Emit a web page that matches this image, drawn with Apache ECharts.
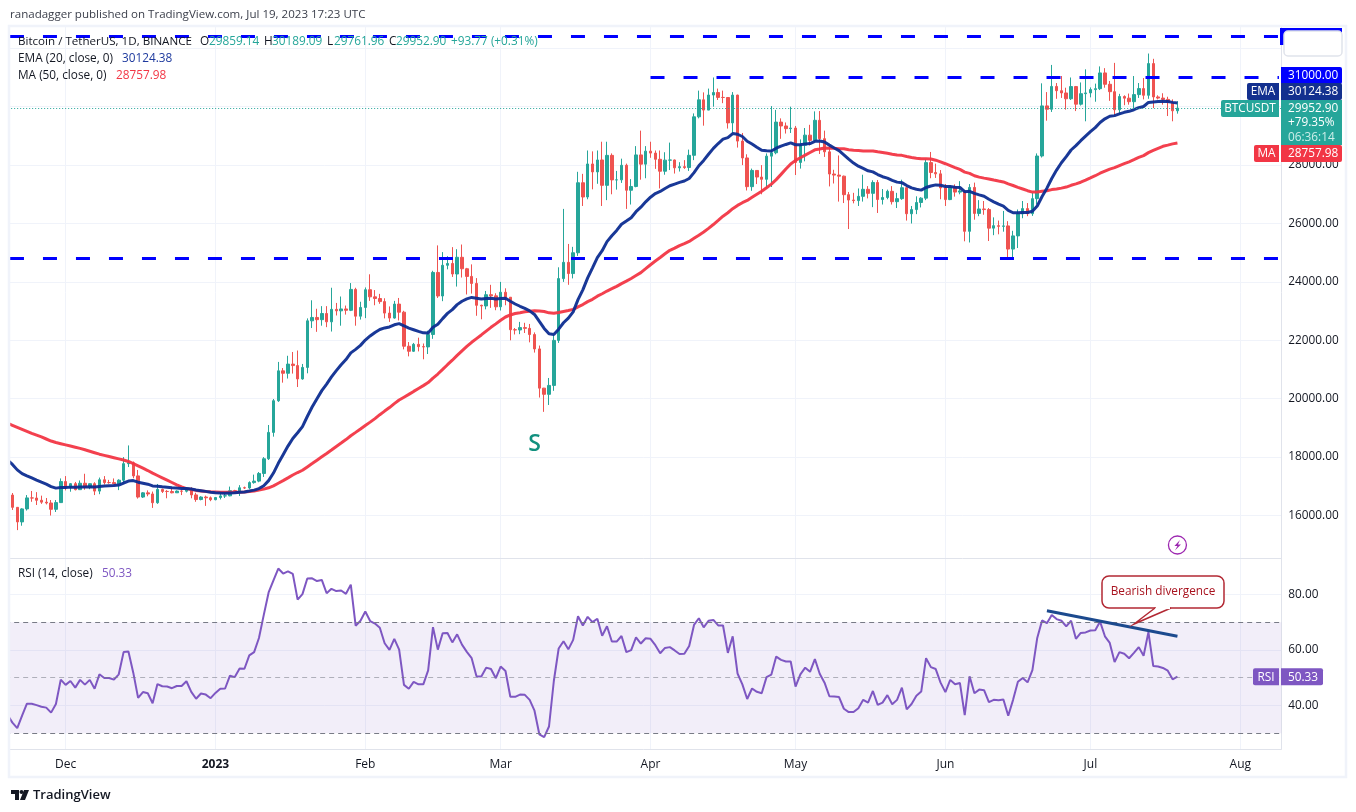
<!DOCTYPE html>
<html><head><meta charset="utf-8">
<style>html,body{margin:0;padding:0;background:#fff}#c{width:1356px;height:812px}</style>
<script src="https://cdn.jsdelivr.net/npm/echarts@6/dist/echarts.min.js"></script>
</head><body><div id="c"></div>
<script>
const startDate = '2022-11-19', bandCount = 264;
const monthDates = ['2022-12-01','2023-01-01','2023-02-01','2023-03-01','2023-04-01','2023-05-01','2023-06-01','2023-07-01','2023-08-01'];
const monthLabels = ['Dec','2023','Feb','Mar','Apr','May','Jun','Jul','Aug'];
const priceTicks = [16000,18000,20000,22000,24000,26000,28000,30000,32000];
const rsiTicks = [40,60,80];
const levels = {top:32420, mid:31000, low:24800};
const last = {price:29952.9, ema:30124.38, ma:28757.98, rsi:50.33};

const opens = [16700,16280,15781,16226,16603,16599,16522,16458,16428,16212,16442,
17163,16970,17090,16885,17105,16966,17089,16836,17224,17128,17127,17085,17209,17775,17804,17357,16632,16776,16738,16438,16895,16825,16821,16778,16836,16832,16919,16706,16547,16633,16607,
16542,16616,16672,16674,16851,16829,16950,16943,17127,17178,17440,17943,18846,19930,20954,20871,21185,21134,20677,21071,22667,22783,22707,22917,22632,23060,23009,23074,23028,23743,22826,
23125,23732,23488,23431,23326,22932,22762,23240,22963,21797,21625,21862,21783,21773,22199,24324,23517,24569,24631,24271,24843,24450,24188,23947,23198,23175,23561,23522,
23147,23646,23475,22362,22354,22435,22409,22197,21705,20362,20150,20455,21997,24113,24670,24285,24998,27395,26907,28038,27767,28175,27307,28333,27493,27494,27994,27139,27268,28348,28033,
28478,28411,28199,27790,28170,28175,27907,27947,27917,28335,29653,30235,29884,30399,30485,30318,30315,29445,30397,28822,28245,27262,27817,27591,27514,28307,28422,29473,29340,29248,
29268,28091,28680,29026,28847,29534,28904,28454,27694,27658,27621,26987,26804,26784,26930,27171,27033,27405,26821,26890,27102,26747,26851,27225,26334,26476,26719,26868,28085,27745,27700,
27219,26819,27249,27075,27116,25732,27235,26345,26498,26477,25841,25925,25902,25918,25124,25576,26327,26510,26336,26851,28311,30027,29912,30695,30548,30470,30271,30689,30086,30445,
30472,30585,30617,31156,30767,30514,29895,30348,30292,30171,30414,30620,30391,31476,30334,30295,30249,30145,29859];
const closes = [16280,15781,16226,16603,16599,16522,16458,16428,16212,16442,17163,
16970,17090,16885,17105,16966,17089,16836,17224,17128,17127,17085,17209,17775,17804,17357,16632,16776,16738,16438,16895,16825,16821,16778,16836,16832,16919,16706,16547,16633,16607,16542,
16616,16672,16674,16851,16829,16950,16943,17127,17178,17440,17943,18846,19930,20954,20871,21185,21134,20677,21071,22667,22783,22707,22917,22632,23060,23009,23074,23028,23743,22826,23125,
23732,23488,23431,23326,22932,22762,23240,22963,21797,21625,21862,21783,21773,22199,24324,23517,24569,24631,24271,24843,24450,24188,23947,23198,23175,23561,23522,23147,
23646,23475,22362,22354,22435,22409,22197,21705,20362,20150,20455,21997,24113,24670,24285,24998,27395,26907,28038,27767,28175,27307,28333,27493,27494,27994,27139,27268,28348,28033,28478,
28411,28199,27790,28170,28175,27907,27947,27917,28335,29653,30235,29884,30399,30485,30318,30315,29445,30397,28822,28245,27262,27817,27591,27514,28307,28422,29473,29340,29248,29268,
28091,28680,29026,28847,29534,28904,28454,27694,27658,27621,26987,26804,26784,26930,27171,27033,27405,26821,26890,27102,26747,26851,27225,26334,26476,26719,26868,28085,27745,27700,27219,
26819,27249,27075,27116,25732,27235,26345,26498,26477,25841,25925,25902,25918,25124,25576,26327,26510,26336,26851,28311,30027,29912,30695,30548,30470,30271,30689,30086,30445,30472,
30585,30617,31156,30767,30514,29895,30348,30292,30171,30414,30620,30391,31476,30334,30295,30249,30145,29859,29952.9];
const lows = [16190,15500,15650,16170,16470,16360,16400,16380,16000,16120,16430,
16860,16815,16860,16880,16880,16900,16700,16730,17060,17090,17070,16870,17090,17660,17275,16580,16600,16660,16260,16400,16770,16590,16760,16770,16700,16790,16590,16470,16520,16330,16490,
16520,16550,16600,16660,16750,16670,16910,16910,17090,17140,17320,17900,18700,19890,20550,20690,20860,20400,20650,20870,22420,22290,22500,22450,22300,22850,22500,22880,23000,22500,22710,
22760,23350,23200,23250,22750,22630,22740,22680,21690,21450,21600,21620,21350,21530,22050,23450,23340,24430,24170,23840,24150,23570,23600,22840,22720,23060,23110,23030,
23020,23200,22000,22200,22210,22250,21930,21580,20040,19550,19785,20270,21910,24000,23900,24120,24890,26600,26830,27170,27360,26600,26800,27000,27160,27390,26500,26650,27240,27500,27550,
28250,27870,27200,27670,27830,27710,27780,27870,27800,28170,29600,29350,29880,30000,30230,30120,29250,29100,28600,28000,27130,27120,27350,27000,27200,27250,28370,28900,29080,29100,
27660,27880,28130,28670,28800,28380,28280,27270,27370,26750,26700,25810,26690,26600,26750,26860,26560,26360,26650,26830,26650,26530,26810,26100,26000,26320,26550,26800,27550,27560,26830,
26600,26800,26920,27000,25390,25350,26130,26250,26300,25400,25600,25630,25720,24820,24800,25160,26180,26250,26260,26650,28260,29520,29820,30270,30300,29900,30230,29850,30040,29500,
30320,30170,30570,30650,30200,29700,29720,30050,30070,29950,30300,30250,30270,29950,30250,30070,29680,29500,29761.96];
const highs = [16770,16290,16250,16700,16840,16800,16680,16600,16530,16530,17270,
17350,17110,17150,17200,17430,17100,17140,17300,17350,17220,17270,17240,18000,18400,17850,17560,16800,16860,16820,17080,16920,16870,16950,16860,16870,16945,16970,16780,16660,16680,16650,
16630,16760,16780,16990,16880,17040,16990,17170,17400,17490,18000,19100,19990,21260,21050,21470,21600,21650,21190,22750,23370,23080,23170,23170,23800,23280,23500,23190,23960,23800,23320,
23810,24260,23720,23590,23440,23160,23350,23450,23010,21940,21910,22090,21890,22330,24380,25250,25020,24880,25190,25120,25280,24480,24600,24130,23220,23690,23900,23610,
24000,23780,23480,22420,22630,22600,22560,22270,21820,20370,20710,22200,24500,26500,25300,25200,27770,27700,28500,28470,28500,28800,28800,28400,27800,28220,28050,27520,28650,29180,28650,
28800,28500,28500,28440,28770,28190,28100,28170,28530,29770,30550,30490,30620,31000,30620,30550,30320,30500,30410,29100,28370,27880,27820,28000,28400,30020,29890,29600,29460,30000,
29340,28880,29270,29380,29840,29850,29180,28670,27840,28330,27640,27080,27050,27200,27670,27280,27480,27490,27180,27160,27280,27050,27500,27230,26600,26930,26900,28200,28450,28050,27830,
27350,27300,27340,27450,27130,27350,27400,26800,26770,26530,26210,26100,26430,26080,25750,26480,26770,26700,27050,28400,30800,30500,31430,30810,31050,30650,31000,30710,30830,31280,
30660,30790,31380,31320,30880,31500,30440,30390,30450,31050,30810,30980,31820,31640,30390,30460,30340,30250,30189.09];
const ema20 = [17900,17750,17563,17436,17357,17285,17212,17140,17072,16990,16938,16959,
16960,16972,16964,16977,16976,16987,16973,16997,17009,17020,17026,17043,17113,17179,17196,17142,17107,17072,17012,17001,16984,16968,16950,16939,16929,16928,16907,16873,16850,16827,16800,
16782,16772,16763,16771,16777,16793,16807,16837,16869,16923,17020,17194,17454,17787,18081,18377,18639,18833,19046,19391,19714,19999,20277,20501,20745,20961,21162,21340,21569,21689,21826,
22007,22148,22270,22371,22424,22456,22531,22572,22498,22415,22362,22307,22256,22251,22448,22550,22742,22922,23050,23221,23338,23419,23469,23443,23417,23431,23440,23412,
23434,23438,23336,23243,23166,23094,23009,22885,22645,22407,22221,22200,22382,22600,22760,22973,23394,23728,24138,24483,24834,25069,25380,25581,25763,25975,26086,26199,26404,26559,26742,
26901,27025,27098,27200,27293,27351,27408,27456,27540,27741,27978,28159,28372,28573,28739,28889,28942,29081,29056,28979,28816,28721,28613,28508,28489,28483,28577,28650,28707,28760,
28696,28694,28726,28738,28814,28823,28788,28684,28586,28494,28351,28204,28069,27961,27886,27805,27767,27677,27602,27554,27477,27417,27399,27298,27220,27172,27143,27233,27282,27322,27312,
27265,27263,27245,27233,27090,27104,27032,26981,26933,26829,26743,26663,26592,26452,26369,26365,26379,26375,26420,26600,26926,27210,27542,27828,28080,28289,28517,28666,28835,28991,
29143,29283,29461,29585,29673,29694,29756,29807,29842,29896,29965,30006,30146,30164,30176,30183,30179,30148,30124.38];
const ma50 = [19160,19090,19020,18950,18880,18810,18750,18690,18620,18550,18500,18460,
18420,18380,18340,18300,18250,18200,18150,18100,18060,18020,17980,17940,17900,17850,17780,17700,17620,17540,17450,17370,17290,17210,17130,17050,16980,16920,16890,16860,16840,16820,16810,
16805,16800,16795,16795,16800,16800,16805,16820,16838,16871,16905,16950,17017,17106,17194,17289,17387,17472,17550,17664,17778,17894,18010,18123,18242,18365,18482,18600,18732,18847,18965,
19084,19198,19319,19453,19576,19696,19832,19953,20052,20148,20250,20349,20448,20554,20706,20845,21004,21164,21319,21484,21640,21790,21932,22059,22184,22316,22444,22563,
22687,22798,22868,22916,22946,22977,22997,23008,23002,22984,22940,22924,22952,22987,23020,23059,23147,23224,23324,23404,23511,23595,23687,23767,23848,23941,24025,24115,24217,24318,24452,
24588,24715,24835,24963,25083,25155,25244,25311,25385,25493,25601,25710,25834,25965,26107,26250,26368,26506,26620,26712,26788,26897,27002,27104,27222,27347,27502,27682,27864,28040,
28162,28253,28340,28431,28522,28552,28583,28576,28574,28563,28557,28526,28512,28501,28485,28483,28486,28455,28432,28404,28371,28344,28333,28296,28262,28238,28216,28219,28207,28168,28108,
28047,27984,27916,27852,27760,27716,27635,27589,27554,27526,27488,27454,27422,27358,27301,27238,27181,27123,27075,27079,27106,27124,27161,27181,27212,27248,27308,27357,27413,27483,
27559,27636,27721,27793,27863,27913,27984,28052,28113,28186,28261,28324,28427,28504,28576,28644,28685,28727,28757.98];
const rsi14 = [36.5,33.8,31.8,36.3,40.6,40.6,40.1,39.5,39.2,37.4,40.5,49.3,47.4,48.8,46.4,49.2,47.5,49.2,46,51.2,49.9,49.9,49.3,51.2,59.2,59.4,51.8,42.7,44.8,44.4,40.8,47.7,46.9,46.8,46.2,47,47,48.7,44.9,42.4,44.3,43.9,42.6,44.5,46,46.1,50.7,50.2,53.3,53.2,58,
59.2,64.3,72.6,80.7,85,89.3,87.5,88.3,87.4,78.1,80.1,85.7,85.8,84.8,85.2,80.4,82,81.2,81.4,80.2,83.5,68.7,70.5,73.8,70.4,69.5,68,62.4,60,64,60.1,47.4,46,48.5,47.6,47.6,52.6,68.2,60.1,66,66.1,
62.7,65.6,61.9,59.3,57,50.5,50.4,53.6,53.1,49.8,54,52.4,43.1,43.1,43.9,43.8,42,38.1,29.6,28.6,32.4,48.8,60.5,63.1,60.2,63.6,72.1,68.8,71.9,70,71.2,65.1,68.5,63,63,65,59.2,59.9,64.5,62.3,64.2,64,61.7,58.8,60.7,61,59.8,58.5,58.6,61.4,69,71.4,68.1,70.5,70.8,68.8,68.8,58.9,64.9,51.5,47.6,42.3,46.1,44.9,44.4,50.2,51.1,57.6,56.4,55.8,55.8,46.8,51.2,53.6,52.1,56.7,51.4,48.2,43.3,43.2,43,38.8,37.6,37.6,39,42,41,45.2,40.2,41,43.7,
40.4,42,46.4,38.6,40.5,43.5,45,57,53.8,53.1,48.2,44.8,49.2,47.6,48.1,36.5,50.5,44.4,45.7,45.5,41.2,42,41.9,42.1,36.3,42,48.5,49.9,48.3,52.7,64.3,70.6,69.6,72.6,71.1,70.5,68.5,70.5,64,66.1,66.3,67,67.1,70.2,64.9,62.5,55.6,59.2,58.6,57,58.9,61,57.9,66.4,54.2,54,53.5,52.5,49.4,50.33];
const divergence = {from:['2023-06-22',74.1], to:['2023-07-19',64.9]};

const fam = '"Open Sans","Noto Sans",sans-serif';
const dates = [];
{ const t0 = Date.parse(startDate+'T00:00:00Z');
  for (let i=0;i<bandCount;i++) dates.push(new Date(t0+i*864e5).toISOString().slice(0,10)); }
const monthIdx = monthDates.map(d=>dates.indexOf(d));
const candles = [['-','-','-','-']].concat(closes.map((c,i)=>[opens[i],c,lows[i],highs[i]]));
const UP='#26a69a', DOWN='#ef5350', GRID='#f0f3fa', AXIS='#e0e3eb', BLUE='#0000ff', TXT='#131722';
const DASH={color:BLUE,width:3,type:[14,19],dashOffset:28.2};

const chart = echarts.init(document.getElementById('c'), null, {renderer:'canvas'});
const xCommon = {
  type:'category', data:dates, boundaryGap:true,
  axisLine:{show:true,lineStyle:{color:AXIS,width:1}},
  axisTick:{show:false,alignWithLabel:true,customValues:monthIdx},
  splitLine:{show:true,alignWithLabel:true,lineStyle:{color:GRID,width:1}}
};
const yCommon = {
  type:'value', position:'right', scale:true,
  axisLine:{show:true,lineStyle:{color:AXIS,width:1}},
  splitLine:{show:true,lineStyle:{color:GRID,width:1}},
};
chart.setOption({
  animation:false, backgroundColor:'#fff',
  grid:[
    {left:5.166,width:1276.2,top:27,height:531},
    {left:5.166,width:1276.2,top:558,height:191}
  ],
  xAxis:[
    Object.assign({},xCommon,{gridIndex:0,axisLabel:{show:false}}),
    Object.assign({},xCommon,{gridIndex:1,axisLabel:{show:true,customValues:monthIdx,margin:10,fontFamily:fam,fontSize:12,color:TXT,
      formatter:v=>{const i=monthDates.indexOf(v);const s=i<0?'':monthLabels[i];return s==='2023'?'{b|2023}':s;},
      rich:{b:{fontWeight:'bold',fontFamily:fam,fontSize:12,color:TXT}}}})
  ],
  yAxis:[
    Object.assign({},yCommon,{gridIndex:0,min:14545,max:32729,
      axisTick:{show:false,customValues:priceTicks},
      axisLabel:{customValues:priceTicks,margin:7,padding:[2,0,0,0],fontFamily:fam,fontSize:11.8,color:TXT,formatter:v=>v.toFixed(2)}}),
    Object.assign({},yCommon,{gridIndex:1,min:24.3,max:93.1,
      axisTick:{show:false,customValues:rsiTicks},
      axisLabel:{customValues:rsiTicks,margin:7,padding:[2,0,0,0],fontFamily:fam,fontSize:11.8,color:TXT,formatter:v=>v.toFixed(2)}})
  ],
  series:[
    {type:'candlestick',name:'BTCUSDT',xAxisIndex:0,yAxisIndex:0,data:candles,barWidth:3,z:2,
      itemStyle:{color:UP,color0:DOWN,borderColor:UP,borderColor0:DOWN,borderWidth:1}},
    {type:'line',name:'MA',xAxisIndex:0,yAxisIndex:0,data:ma50,symbol:'none',z:3,lineStyle:{color:'#f23645',width:3,opacity:.95}},
    {type:'line',name:'EMA',xAxisIndex:0,yAxisIndex:0,data:ema20,symbol:'none',z:4,lineStyle:{color:'#0d2d91',width:3,opacity:.95},
      markLine:{silent:true,symbol:'none',label:{show:false},animation:false,data:[
        {yAxis:levels.top,lineStyle:DASH},
        {yAxis:levels.low,lineStyle:DASH},
        {yAxis:last.price,lineStyle:{color:UP,width:1,type:[1,2]}},
        [{coord:['2023-04-01',levels.mid],lineStyle:{color:BLUE,width:3,type:[14,19]}},{coord:[dates[bandCount-1],levels.mid]}]
      ]}},
    {type:'line',name:'RSI',xAxisIndex:1,yAxisIndex:1,data:rsi14,symbol:'none',z:4,lineStyle:{color:'#7e57c2',width:2},
      markArea:{silent:true,itemStyle:{color:'rgba(126,87,194,0.1)'},data:[[{yAxis:30},{yAxis:70}]]},
      markLine:{silent:true,symbol:'none',label:{show:false},animation:false,data:[
        {yAxis:70,lineStyle:{color:'#787b86',width:1,type:[5,4]}},
        {yAxis:50,lineStyle:{color:'rgba(120,123,134,0.55)',width:1,type:[5,4]}},
        {yAxis:30,lineStyle:{color:'#787b86',width:1,type:[5,4]}}
      ]}},
    {type:'line',name:'Divergence',xAxisIndex:1,yAxisIndex:1,symbol:'none',z:5,
      data:[divergence.from,divergence.to],lineStyle:{color:'#1c4a8e',width:3}}
  ]
});

const py = v=>chart.convertToPixel({yAxisIndex:0},v);
const ry = v=>chart.convertToPixel({yAxisIndex:1},v);
const T=(text,x,y,fill,o={})=>({type:'text',z:50,x,y,style:{text,fill,font:(o.w||'normal')+' '+(o.s||11.8)+'px '+fam,textAlign:o.a||'left',textVerticalAlign:'middle'}});
const R=(x,y,w,h,fill,r=0,stroke)=>({type:'rect',z:40,shape:{x,y,width:w,height:h,r},style:{fill,stroke:stroke||null,lineWidth:stroke?1.5:0}});
function tag(y,name,val,col){
  const h=17,top=Math.round(y-h/2);
  const g=[R(1281,top,61,h,col,[0,2,2,0]),T(val,1288,top+h/2+.5,'#fff')];
  if(name){const w=name==='BTCUSDT'?58:(name==='EMA'?32:25);g.push(R(1279-w,top,w,h,col,[2,0,0,2]),T(name,1279-w/2,top+h/2+.5,'#fff',{a:'center'}));}
  return g;
}
const sx=chart.convertToPixel({xAxisIndex:0},'2023-03-08'), sy=py(18430);
const ix=chart.convertToPixel({xAxisIndex:0},'2023-07-19');
const gfx=[
  // cover of the pre-range band, then outer frame
  {type:'rect',z:25,shape:{x:0,y:20,width:9,height:765},style:{fill:'#fff'}},
  {type:'rect',z:45,shape:{x:9,y:26,width:1337,height:751},style:{fill:null,stroke:'#f0f3fa',lineWidth:2.5}},
  T('ranadagger published on TradingView.com, Jul 19, 2023 17:23 UTC',10,15,'#3a3e4a',{s:11.55}),
  // legend
  T('Bitcoin / TetherUS, 1D, BINANCE',18,42,TXT,{s:11.6}),
  T('O',200,42,TXT),T('29859.14',209,42,UP),T('H',264,42,TXT),T('30189.09',272,42,UP),
  T('L',327,42,TXT),T('29761.96',334,42,UP),T('C',389,42,TXT),T('29952.90',396,42,UP),T('+93.77 (+0.31%)',451,42,UP),
  T('EMA (20, close, 0)',18,59,TXT),T('30124.38',122,59,'#1e3a9e'),
  T('MA (50, close, 0)',18,76,TXT),T('28757.98',116,76,'#f23645'),
  T('RSI (14, close)',18,574,TXT),T('50.33',102,574,'#7e57c2'),
  // S mark
  T('S',sx,sy,'#11907f',{s:23,a:'center',w:'600'}),
  // lightning
  {type:'circle',z:40,shape:{cx:ix,cy:545,r:9},style:{fill:'#fff',stroke:'#9c27b0',lineWidth:1.3}},
  {type:'polygon',z:41,shape:{points:[[ix+2.5,540],[ix-3,546],[ix,546],[ix-2.5,550.5],[ix+3.5,544.5],[ix+.5,544.5]]},style:{fill:'#9c27b0'}},
  // top-right box
  R(1280,28,62,17,BLUE),
  R(1284,31,58,25,'#fff',4,'#e0e3eb'),
  ...tag(py(levels.mid)-2,null,'31000.00',BLUE),
  ...tag(91.5,'EMA','30124.38','#13308f'),
  // BTCUSDT tag
  R(1221,100,58,17,UP,[2,0,0,2]),T('BTCUSDT',1250,108.5,'#fff',{a:'center'}),
  R(1281,100,61,45,UP),T('29952.90',1288,108.5,'#fff'),T('+79.35%',1288,123,'#fff'),T('06:36:14',1288,137.5,'#cdeee9'),
  ...tag(153.5,'MA','28757.98','#f23645'),
  // RSI tag
  R(1253,ry(last.rsi)-8.5,26,17,'#7e57c2',[2,0,0,2]),T('RSI',1266,ry(last.rsi)+.5,'#fff',{a:'center'}),
  R(1281,ry(last.rsi)-8.5,42,17,'#7e57c2',[0,2,2,0]),T('50.33',1288,ry(last.rsi)+.5,'#fff'),
  // callout
  R(1102,576,122,32,'#fff',7,'#b22833'),
  {type:'polyline',z:41,shape:{points:[[1155,608],[1134,624],[1171,608]]},style:{fill:'#fff',stroke:'#b22833',lineWidth:1.5}},
  {type:'line',z:42,shape:{x1:1156,y1:608,x2:1170,y2:608},style:{stroke:'#fff',lineWidth:2.2}},
  T('Bearish divergence',1163,592,'#a8131f',{a:'center'}),
  // logo
  {type:'polygon',z:40,shape:{points:[[11,790],[19,790],[19,800],[15,800],[15,794],[11,794]]},style:{fill:TXT}},
  {type:'circle',z:40,shape:{cx:21.5,cy:792,r:2},style:{fill:TXT}},
  {type:'polygon',z:40,shape:{points:[[24,790],[29,790],[25,800],[20,800]]},style:{fill:TXT}},
  T('TradingView',33,795,TXT,{s:13,w:'600'})
];
chart.setOption({graphic:gfx});
</script></body></html>
